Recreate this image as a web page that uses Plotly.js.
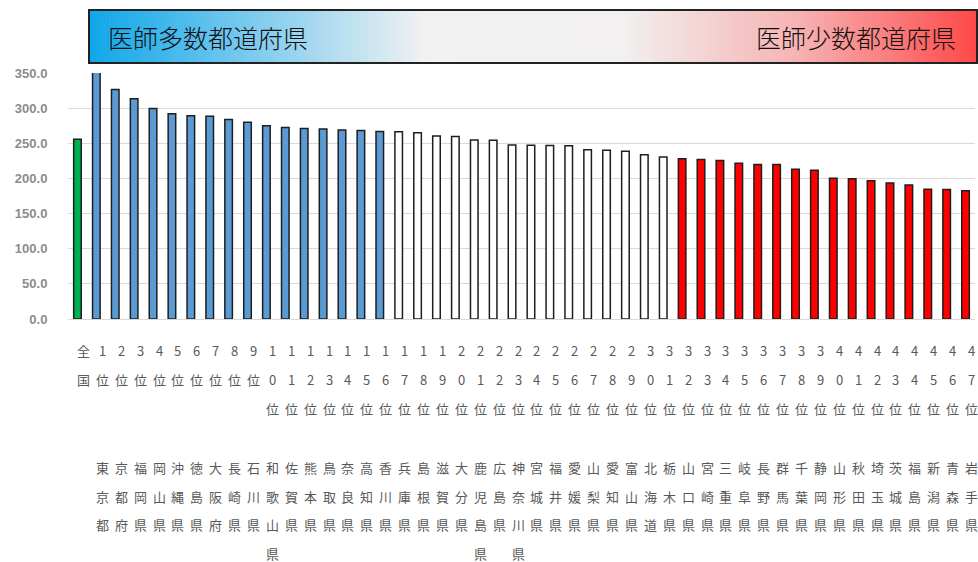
<!DOCTYPE html>
<html>
<head>
<meta charset="utf-8">
<script src="https://cdn.plot.ly/plotly-3.0.1.min.js"></script>
<style>html,body{margin:0;padding:0;background:#fff;}#chart{width:978px;height:562px;}</style>
</head>
<body>
<div id="chart"></div>
<script>
// ---- data ----
const rankLabels = ["全国","1位","2位","3位","4位","5位","6位","7位","8位","9位","10位","11位","12位","13位","14位","15位","16位","17位","18位","19位","20位","21位","22位","23位","24位","25位","26位","27位","28位","29位","30位","31位","32位","33位","34位","35位","36位","37位","38位","39位","40位","41位","42位","43位","44位","45位","46位","47位"];
const prefNames = ["","東京都","京都府","福岡県","岡山県","沖縄県","徳島県","大阪府","長崎県","石川県","和歌山県","佐賀県","熊本県","鳥取県","奈良県","高知県","香川県","兵庫県","島根県","滋賀県","大分県","鹿児島県","広島県","神奈川県","宮城県","福井県","愛媛県","山梨県","愛知県","富山県","北海道","栃木県","山口県","宮崎県","三重県","岐阜県","長野県","群馬県","千葉県","静岡県","山形県","秋田県","埼玉県","茨城県","福島県","新潟県","青森県","岩手県"];
const values = [255.6,353.9,326.7,313.3,299.6,292.1,289.3,288.6,284.0,279.8,274.9,272.3,271.0,270.4,268.9,268.2,266.9,266.5,265.1,260.4,259.7,254.8,254.2,247.5,247.3,246.8,246.4,240.8,240.2,238.8,233.8,230.5,228.0,227.0,225.6,221.5,219.9,219.7,213.0,211.8,200.2,199.4,196.8,193.6,190.5,184.7,184.3,182.5];
const manyLimit = 16;   // 医師多数: 1-16位
const fewStart = 32;    // 医師少数: 32-47位
const bannerLeft = "医師多数都道府県";
const bannerRight = "医師少数都道府県";

// ---- geometry helpers (layout only) ----
const W = 978, H = 562, ML = 68, MR = 3, MT = 73, MB = 243;
const PW = W - ML - MR, PH = H - MT - MB;
const px2x = px => (px - ML) / PW;
const px2y = py => (H - MB - py) / PH;

const colors = rankLabels.map((r, i) => i === 0 ? '#00b050' : (i <= manyLimit ? '#5b9bd5' : (i >= fewStart ? '#ff0000' : '#ffffff')));

const trace = {
  type: 'bar',
  x: rankLabels,
  y: values,
  marker: {color: colors, line: {color: '#1e1e1e', width: 1.5}},
  hoverinfo: 'x+y'
};

const shapes = [];
// gradient banner built from thin strips
const stops = [[0,[14,166,234]],[0.38,[242,242,242]],[0.6,[242,240,240]],[0.8,[246,178,178]],[1,[255,72,72]]];
function colAt(t){
  for (let k=0;k<stops.length-1;k++){
    const [a,ca]=stops[k],[b,cb]=stops[k+1];
    if (t>=a && t<=b){
      const f=(t-a)/(b-a);
      return 'rgb('+ca.map((c,j)=>Math.round(c+(cb[j]-c)*f)).join(',')+')';
    }
  }
  return 'rgb(255,72,72)';
}
const bx0 = 89, bx1 = 977, by0 = 10, by1 = 63, N = 220;
for (let s=0;s<N;s++){
  const xa = bx0 + (bx1-bx0)*s/N, xb = bx0 + (bx1-bx0)*(s+1)/N + 0.6;
  shapes.push({type:'rect', xref:'paper', yref:'paper', x0:px2x(xa), x1:px2x(xb), y0:px2y(by1), y1:px2y(by0),
    fillcolor: colAt((s+0.5)/N), line:{width:0}});
}
shapes.push({type:'rect', xref:'paper', yref:'paper', x0:px2x(bx0), x1:px2x(bx1), y0:px2y(by1), y1:px2y(by0),
  fillcolor:'rgba(0,0,0,0)', line:{color:'#222', width:2}});

const annotations = [
  {xref:'paper', yref:'paper', x:px2x(106), y:px2y(37), xanchor:'left', yanchor:'middle', showarrow:false,
   text: bannerLeft, font:{family:'Noto Sans CJK JP', size:25, weight:300, color:'#111'}},
  {xref:'paper', yref:'paper', x:px2x(958), y:px2y(37), xanchor:'right', yanchor:'middle', showarrow:false,
   text: bannerRight, font:{family:'Noto Sans CJK JP', size:25, weight:300, color:'#111'}}
];
const rankRows = [350, 379, 408];
const nameRows = [467, 496, 524, 553];
const lblFont = {family:'Noto Sans CJK JP', size:13, color:'#595959'};
rankLabels.forEach((r, i) => {
  Array.from(r).forEach((ch, j) => {
    annotations.push({xref:'x', yref:'paper', x:r, y:px2y(rankRows[j]), yanchor:'middle', xanchor:'center',
      xshift:6, showarrow:false, text:ch, font:lblFont});
  });
  Array.from(prefNames[i]).forEach((ch, j) => {
    annotations.push({xref:'x', yref:'paper', x:r, y:px2y(nameRows[j]), yanchor:'middle', xanchor:'center',
      xshift:6, showarrow:false, text:ch, font:lblFont});
  });
});

const layout = {
  width: W, height: H,
  margin: {l:ML, r:MR, t:MT, b:MB, pad:0},
  paper_bgcolor:'#fff', plot_bgcolor:'#fff',
  showlegend:false,
  bargap:0.6,
  xaxis: {type:'category', range:[-0.5,47.5], showticklabels:false, ticks:'', showgrid:false,
          showline:true, linecolor:'#d9d9d9', linewidth:1, zeroline:false, fixedrange:true},
  yaxis: {range:[0,350], dtick:50, tick0:0, tickformat:'.1f', showgrid:true, gridcolor:'#d9d9d9', gridwidth:1,
          zeroline:false, showline:false, ticks:'outside', ticklen:17, tickcolor:'rgba(0,0,0,0)',
          tickfont:{family:'Liberation Sans, Arial', size:13, weight:'bold', color:'#8c8c8c'}, fixedrange:true},
  shapes: shapes,
  annotations: annotations
};

Plotly.newPlot('chart', [trace], layout, {displayModeBar:false, staticPlot:true});
</script>
</body>
</html>
